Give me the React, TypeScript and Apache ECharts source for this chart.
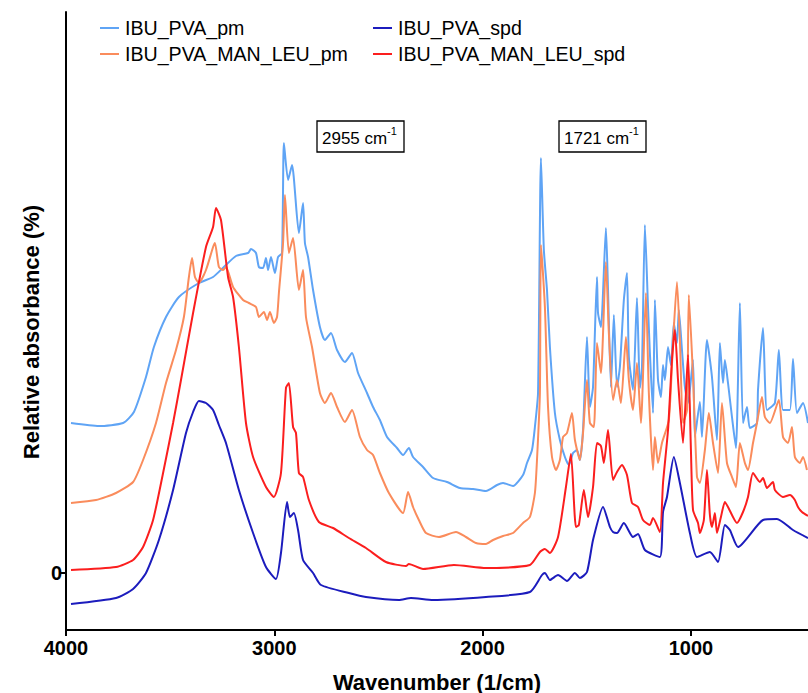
import React, { useEffect, useRef } from 'react';
import * as echarts from 'echarts';

// Wavenumber (cm^-1), relative absorbance
const pvaPm: [number, number][] = [
  [3976, 1.5], [3842, 1.47], [3726, 1.5], [3674, 1.61], [3616, 1.96], [3578, 2.26], [3520, 2.56], [3458, 2.76],
  [3362, 2.9], [3294, 2.96], [3242, 3.06], [3184, 3.17], [3126, 3.2], [3112, 3.24], [3088, 3.2], [3074, 3.06],
  [3054, 3.05], [3040, 3.15], [3030, 3.03], [3016, 3.16], [2997, 3.0], [2982, 3.16], [2963, 3.2], [2954, 4.3],
  [2934, 3.93], [2915, 4.08], [2882, 3.4], [2862, 3.7], [2853, 3.3], [2838, 3.16], [2814, 2.83], [2781, 2.46],
  [2757, 2.33], [2728, 2.4], [2699, 2.23], [2661, 2.11], [2627, 2.2], [2598, 2.0], [2555, 1.8], [2526, 1.66],
  [2493, 1.53], [2459, 1.36], [2411, 1.25], [2382, 1.18], [2354, 1.25], [2334, 1.16], [2286, 1.06], [2238, 0.95],
  [2171, 0.91], [2109, 0.85], [2046, 0.84], [1984, 0.82], [1931, 0.88], [1902, 0.9], [1854, 0.87], [1806, 0.98],
  [1787, 1.1], [1763, 1.23], [1749, 1.46], [1734, 1.8], [1720, 4.15], [1706, 3.23], [1691, 2.83], [1677, 2.26],
  [1653, 1.6], [1629, 1.33], [1605, 1.16], [1586, 1.08], [1566, 1.2], [1547, 1.23], [1533, 1.13], [1518, 1.43],
  [1499, 2.36], [1485, 1.66], [1470, 1.86], [1451, 2.96], [1446, 2.6], [1432, 2.46], [1408, 3.45], [1398, 2.83],
  [1384, 1.86], [1370, 2.58], [1355, 1.86], [1341, 2.06], [1322, 2.73], [1307, 3.0], [1298, 2.16], [1278, 1.83],
  [1259, 2.75], [1245, 1.85], [1235, 2.06], [1221, 3.48], [1206, 2.66], [1197, 2.2], [1182, 1.6], [1173, 2.73],
  [1158, 1.93], [1144, 1.76], [1134, 2.08], [1125, 1.93], [1110, 2.26], [1096, 2.08], [1082, 2.5], [1067, 2.3],
  [1058, 2.63], [1043, 2.23], [1029, 1.86], [1014, 1.7], [990, 2.13], [981, 1.36], [957, 1.71], [947, 1.36],
  [923, 2.33], [899, 1.96], [875, 1.33], [861, 2.3], [846, 1.9], [837, 2.13], [822, 1.9], [803, 1.56],
  [784, 1.25], [765, 2.7], [750, 1.5], [731, 1.66], [717, 1.45], [683, 1.5], [678, 1.83], [654, 2.45],
  [635, 1.63], [597, 1.7], [578, 2.23], [558, 1.63], [525, 1.63], [510, 2.14], [491, 1.6], [462, 1.7], [438, 1.5],
];

const pvaManLeuPm: [number, number][] = [
  [3976, 0.7], [3856, 0.73], [3760, 0.8], [3678, 0.91], [3630, 1.13], [3568, 1.5], [3520, 1.9], [3472, 2.23],
  [3434, 2.56], [3410, 2.96], [3395, 3.15], [3381, 2.96], [3362, 2.9], [3328, 3.03], [3294, 3.26], [3285, 3.3],
  [3266, 3.06], [3246, 3.03], [3232, 3.06], [3198, 2.86], [3150, 2.73], [3122, 2.7], [3088, 2.66], [3074, 2.56],
  [3050, 2.61], [3035, 2.53], [3021, 2.61], [3002, 2.5], [2987, 2.56], [2978, 2.8], [2958, 3.3], [2949, 3.78],
  [2930, 3.2], [2910, 3.35], [2882, 2.83], [2862, 3.03], [2848, 2.56], [2819, 2.26], [2781, 1.8], [2757, 1.7],
  [2728, 1.8], [2699, 1.66], [2661, 1.51], [2627, 1.63], [2589, 1.36], [2555, 1.23], [2526, 1.18], [2493, 1.0],
  [2450, 0.8], [2382, 0.6], [2358, 0.81], [2334, 0.66], [2306, 0.53], [2272, 0.4], [2210, 0.36], [2128, 0.41],
  [2080, 0.36], [2032, 0.3], [1984, 0.29], [1950, 0.33], [1902, 0.37], [1854, 0.4], [1806, 0.5], [1773, 0.56],
  [1749, 0.8], [1739, 1.13], [1725, 1.8], [1720, 3.28], [1701, 2.66], [1686, 1.66], [1667, 1.16], [1648, 1.03],
  [1629, 1.13], [1614, 1.36], [1595, 1.4], [1571, 1.6], [1557, 1.33], [1533, 1.13], [1518, 1.4], [1499, 1.93],
  [1485, 1.5], [1466, 1.46], [1451, 2.3], [1432, 2.0], [1408, 3.11], [1394, 2.4], [1374, 1.73], [1355, 1.93],
  [1336, 1.7], [1312, 2.36], [1298, 1.93], [1278, 1.63], [1259, 2.1], [1240, 1.5], [1216, 2.8], [1202, 1.8],
  [1182, 1.03], [1173, 1.36], [1158, 1.1], [1139, 1.3], [1106, 1.53], [1086, 2.3], [1067, 2.91], [1053, 2.33],
  [1038, 1.5], [1019, 1.63], [1010, 2.78], [990, 1.96], [971, 0.96], [957, 0.9], [933, 1.23], [914, 1.6],
  [894, 1.3], [870, 1.0], [851, 1.7], [827, 1.1], [803, 0.96], [784, 0.86], [765, 1.3], [741, 1.1],
  [726, 1.03], [702, 1.3], [683, 1.5], [659, 1.76], [645, 1.56], [621, 1.5], [578, 1.73], [558, 1.36],
  [534, 1.3], [515, 1.46], [501, 1.16], [477, 1.1], [462, 1.16], [443, 1.03],
];

const pvaSpd: [number, number][] = [
  [3976, -0.31], [3760, -0.25], [3678, -0.16], [3616, 0.0], [3554, 0.33], [3486, 0.83], [3424, 1.4], [3390, 1.61],
  [3362, 1.72], [3328, 1.7], [3294, 1.63], [3266, 1.48], [3232, 1.3], [3170, 0.83], [3102, 0.4], [3040, 0.06],
  [2992, -0.06], [2968, 0.2], [2939, 0.71], [2925, 0.56], [2906, 0.6], [2886, 0.43], [2862, 0.13], [2814, 0.0],
  [2776, -0.12], [2642, -0.2], [2560, -0.24], [2402, -0.27], [2344, -0.25], [2238, -0.27], [1984, -0.24],
  [1773, -0.19], [1715, -0.02], [1701, 0.0], [1677, -0.07], [1638, -0.02], [1595, -0.08], [1557, 0.0],
  [1533, -0.05], [1499, 0.01], [1470, 0.33], [1422, 0.66], [1389, 0.46], [1374, 0.41], [1355, 0.4], [1322, 0.5],
  [1278, 0.36], [1254, 0.39], [1221, 0.23], [1149, 0.16], [1134, 0.61], [1115, 0.76], [1082, 1.16], [1053, 0.9],
  [1005, 0.4], [971, 0.16], [909, 0.21], [870, 0.11], [837, 0.48], [813, 0.43], [774, 0.26], [654, 0.53],
  [587, 0.54], [510, 0.43], [438, 0.35],
];

const pvaManLeuSpd: [number, number][] = [
  [3976, 0.03], [3760, 0.06], [3678, 0.13], [3630, 0.26], [3582, 0.53], [3534, 1.0], [3486, 1.5], [3448, 1.93],
  [3390, 2.6], [3328, 3.26], [3294, 3.46], [3280, 3.65], [3256, 3.53], [3222, 2.96], [3198, 2.76], [3170, 2.26],
  [3136, 1.5], [3102, 1.16], [3040, 0.86], [3002, 0.76], [2968, 1.0], [2944, 1.85], [2930, 1.9], [2910, 1.46],
  [2896, 1.4], [2882, 1.0], [2862, 0.96], [2834, 0.73], [2786, 0.51], [2718, 0.45], [2642, 0.35], [2560, 0.25],
  [2464, 0.11], [2368, 0.07], [2354, 0.09], [2286, 0.04], [2138, 0.08], [1984, 0.05], [1773, 0.08], [1725, 0.21],
  [1701, 0.24], [1677, 0.2], [1638, 0.36], [1600, 0.86], [1576, 1.19], [1552, 0.46], [1538, 0.48], [1514, 0.83],
  [1494, 0.56], [1470, 0.86], [1451, 1.3], [1432, 1.27], [1418, 1.1], [1398, 1.43], [1374, 0.93], [1355, 1.01],
  [1331, 1.08], [1307, 0.98], [1283, 0.7], [1254, 0.66], [1230, 0.53], [1197, 0.48], [1182, 0.55], [1149, 0.41],
  [1134, 0.9], [1110, 1.43], [1091, 2.13], [1077, 2.43], [1062, 1.93], [1038, 1.3], [1014, 2.18], [1000, 1.23],
  [990, 0.63], [966, 0.5], [957, 0.4], [938, 0.53], [923, 1.03], [909, 0.58], [899, 0.46], [885, 0.6],
  [875, 0.4], [856, 0.56], [837, 0.71], [822, 0.66], [779, 0.5], [750, 0.61], [726, 0.76], [702, 1.0],
  [669, 0.91], [654, 0.95], [635, 0.85], [606, 0.91], [597, 0.83], [558, 0.76], [525, 0.78], [501, 0.73],
  [486, 0.66], [467, 0.61], [438, 0.57],
];

const seriesNames = ['IBU_PVA_pm', 'IBU_PVA_MAN_LEU_pm', 'IBU_PVA_spd', 'IBU_PVA_MAN_LEU_spd'];
const seriesColors = ['#5fa4f5', '#fa8c5c', '#1c1cbd', '#fb1e1e'];
const seriesData = [pvaPm, pvaManLeuPm, pvaSpd, pvaManLeuSpd];
const xTickValues = [4000, 3000, 2000, 1000];
const yTickValues = [0];
const peakLabels = [
  { text: '2955 cm', left: 317 },
  { text: '1721 cm', left: 559 },
];

const FONT = '"Liberation Sans", Arial, Helvetica, sans-serif';

export default function App() {
  const ref = useRef<HTMLDivElement>(null);
  useEffect(() => {
    document.body.style.margin = '0';
    const chart = echarts.init(ref.current!, null, { renderer: 'svg' });
    const legendCommon = {
      orient: 'vertical',
      top: 13,
      icon: 'rect',
      itemWidth: 19,
      itemHeight: 2,
      itemGap: 6,
      textStyle: { fontSize: 19.6, color: '#000', fontFamily: FONT, lineHeight: 20, padding: [0, 0, 0, 1] },
    };
    chart.setOption({
      animation: false,
      backgroundColor: '#fff',
      grid: { left: 66, right: 0, top: 12, bottom: 63, outerBoundsMode: 'none', containLabel: false },
      legend: [
        { ...legendCommon, left: 95, data: [seriesNames[0], seriesNames[1]] },
        { ...legendCommon, left: 368, data: [seriesNames[2], seriesNames[3]] },
      ],
      xAxis: {
        type: 'value',
        inverse: true,
        min: 438,
        max: 4000,
        name: 'Wavenumber (1/cm)',
        nameLocation: 'middle',
        nameGap: 41,
        nameTextStyle: { fontSize: 22, fontWeight: 'bold', color: '#000', fontFamily: FONT },
        axisLine: { show: true, onZero: false, lineStyle: { color: '#000', width: 2 } },
        axisTick: { show: true, length: 6, customValues: xTickValues, lineStyle: { color: '#000', width: 2 } },
        axisLabel: {
          customValues: xTickValues,
          formatter: (v: number) => String(v),
          fontSize: 20,
          fontWeight: 'bold',
          color: '#000',
          fontFamily: FONT,
          margin: 8,
        },
        splitLine: { show: false },
      },
      yAxis: {
        type: 'value',
        min: -0.57,
        max: 5.61,
        axisLine: { show: true, onZero: false, lineStyle: { color: '#000', width: 2 } },
        axisTick: { show: true, length: 6, customValues: yTickValues, lineStyle: { color: '#000', width: 2 } },
        axisLabel: {
          customValues: yTickValues,
          formatter: (v: number) => String(v),
          fontSize: 20,
          fontWeight: 'bold',
          color: '#000',
          fontFamily: FONT,
          margin: 4,
        },
        splitLine: { show: false },
      },
      graphic: [
        {
          type: 'text',
          x: 31,
          y: 332,
          rotation: Math.PI / 2,
          style: {
            text: 'Relative absorbance (%)',
            fontSize: 22,
            fontWeight: 'bold',
            fontFamily: FONT,
            fill: '#000',
            align: 'center',
            verticalAlign: 'middle',
          },
        },
        ...peakLabels.map((p) => ({
          type: 'group',
          x: p.left,
          y: 121,
          children: [
            {
              type: 'rect',
              shape: { x: 0, y: 0, width: 87, height: 31 },
              style: { fill: '#fff', stroke: '#000', lineWidth: 1.3 },
            },
            {
              type: 'text',
              x: 5,
              y: 17,
              style: { text: p.text, fontSize: 17, fontFamily: FONT, fill: '#000', align: 'left', verticalAlign: 'middle' },
            },
            {
              type: 'text',
              x: 70,
              y: 10,
              style: { text: '-1', fontSize: 11, fontFamily: FONT, fill: '#000', align: 'left', verticalAlign: 'middle' },
            },
          ],
        })),
      ],
      series: seriesNames.map((name, i) => ({
        name,
        type: 'line',
        data: seriesData[i],
        showSymbol: false,
        smooth: 0.2,
        color: seriesColors[i],
        lineStyle: { color: seriesColors[i], width: 2 },
        z: 2 + i,
      })),
    });
    return () => chart.dispose();
  }, []);
  return <div ref={ref} style={{ position: 'absolute', left: 0, top: 0, width: 808, height: 693 }} />;
}
